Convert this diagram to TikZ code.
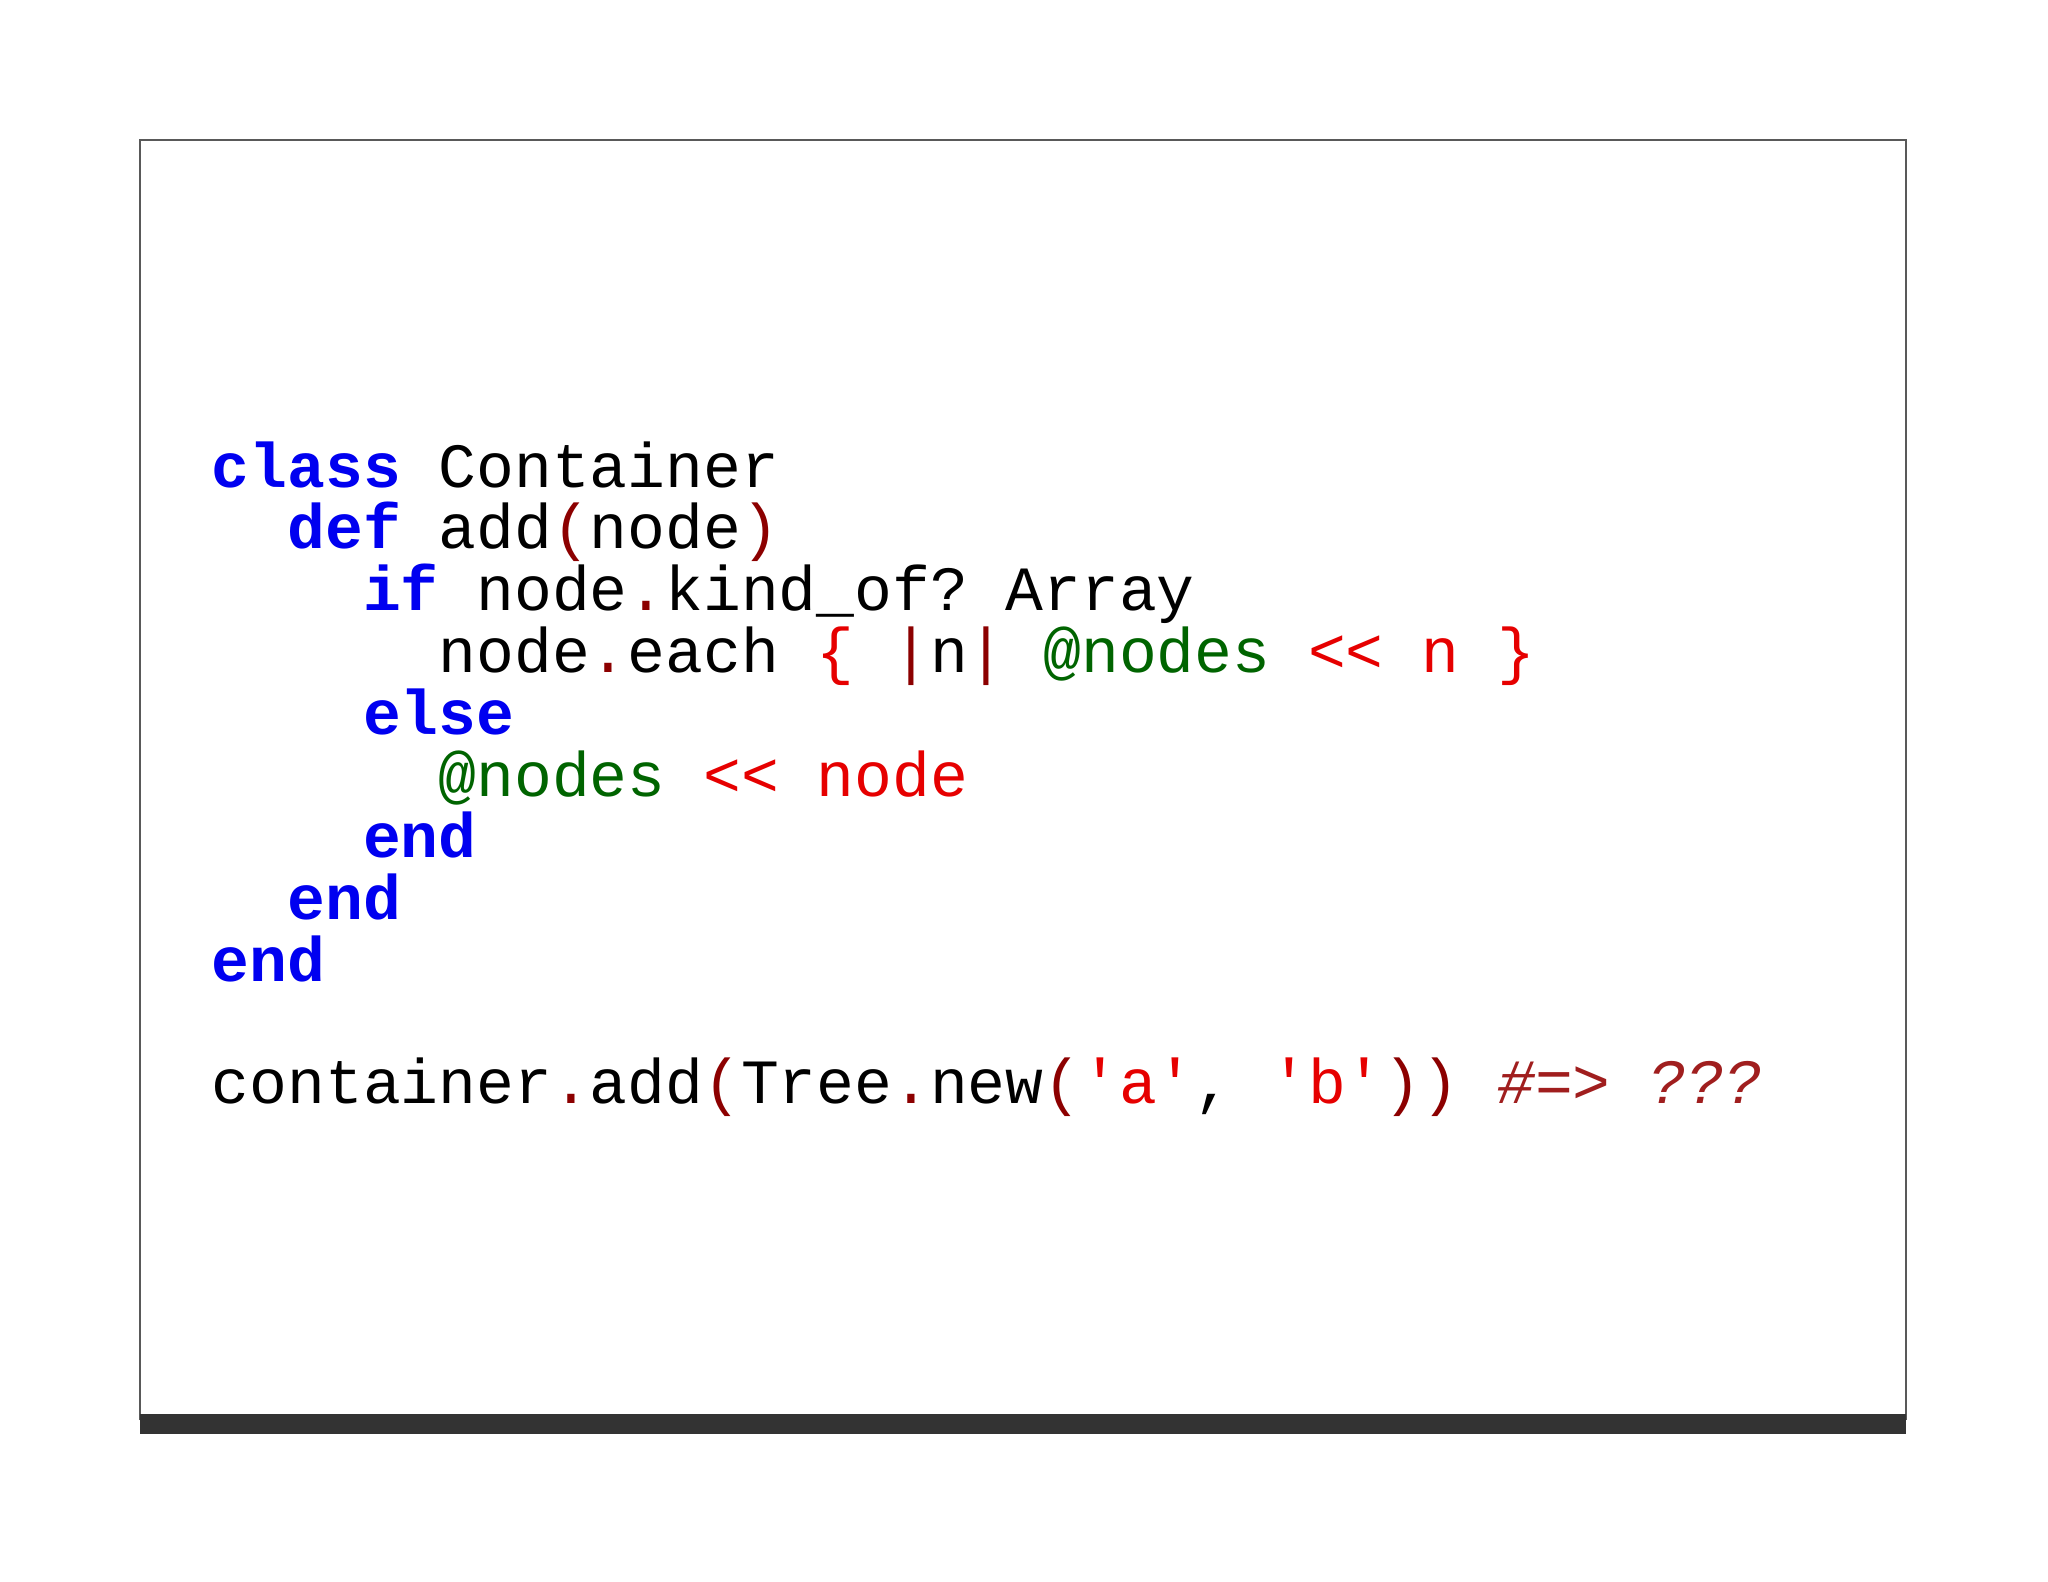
\documentclass[tikz,border=0pt]{standalone}
\usepackage{fontspec}
\setmonofont{Liberation Mono}
\definecolor{kw}{RGB}{0,0,240}
\definecolor{op}{RGB}{230,0,0}
\definecolor{dr}{RGB}{140,0,0}
\definecolor{gr}{RGB}{0,100,0}
\definecolor{cm}{RGB}{160,30,30}
\newcommand{\K}[1]{\textcolor{kw}{\textbf{#1}}}
\newcommand{\R}[1]{\textcolor{op}{#1}}
\newcommand{\D}[1]{\textcolor{dr}{#1}}
\newcommand{\G}[1]{\textcolor{gr}{#1}}
\begin{document}
\begin{tikzpicture}[x=1pt,y=-1pt,
  code/.style={anchor=base west,inner sep=0pt,font=\fontsize{63}{63}\ttfamily}]
\useasboundingbox[fill=white] (0,0) rectangle (2048,1582);
\draw[gray!70!black,line width=1.5pt] (140,1420) -- (140,140) -- (1906,140) -- (1906,1420);
\fill[black!80] (140,1414) rectangle (1906,1434);
\def\cx#1{211.6+#1*37.8}
\node[code] (l0) at (\cx{0},487) {\K{class} Container};
\node[code] (l1) at (\cx{2},548.8) {\K{def} add\D{(}node\D{)}};
\node[code] (l2) at (\cx{4},610.6) {\K{if} node\D{.}kind\_of? Array};
\node[code] (l3) at (\cx{6},672.4) {node\D{.}each \R{\{} \D{|}n\D{|} \G{@nodes} \R{<< n \}}};
\node[code] (l4) at (\cx{4},734.2) {\K{else}};
\node[code] (l5) at (\cx{6},796) {\G{@nodes} \R{<< node}};
\node[code] (l6) at (\cx{4},857.8) {\K{end}};
\node[code] (l7) at (\cx{2},919.6) {\K{end}};
\node[code] (l8) at (\cx{0},981.4) {\K{end}};
\node[code] (l9) at (\cx{0},1103) {container\D{.}add\D{(}Tree\D{.}new\D{(}\R{'a'}, \R{'b'}\D{))} \textcolor{cm}{\itshape \#=> ???}};
\end{tikzpicture}
\end{document}
